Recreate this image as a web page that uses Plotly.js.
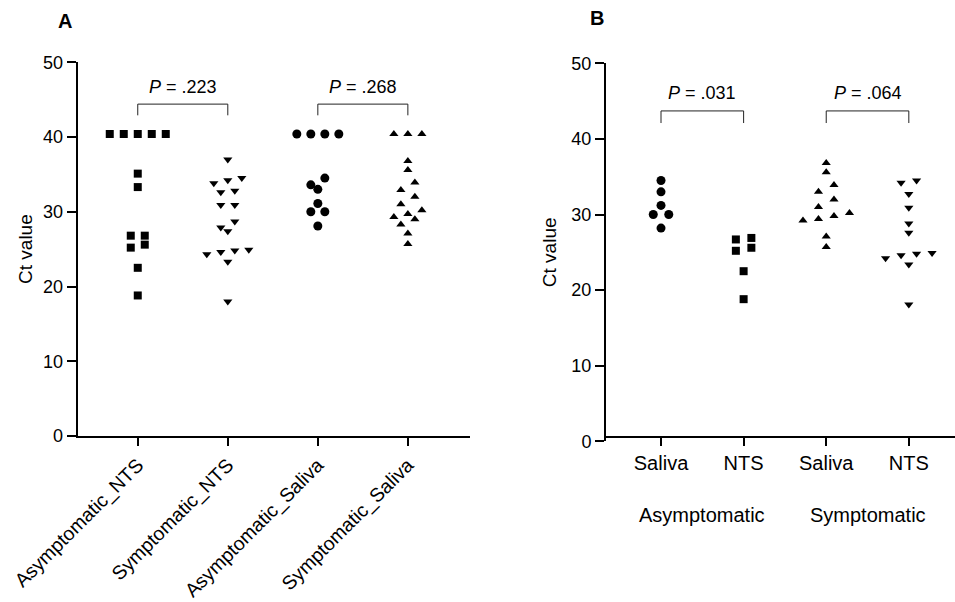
<!DOCTYPE html>
<html><head><meta charset="utf-8">
<script src="https://cdn.plot.ly/plotly-3.0.1.min.js"></script>
<style>html,body{margin:0;padding:0;background:#fff;} #chart{width:955px;height:602px;}</style>
</head><body><div id="chart"></div>
<script>
// ---------- Data ----------
const categoriesA = ["Asymptomatic_NTS", "Symptomatic_NTS", "Asymptomatic_Saliva", "Symptomatic_Saliva"];
const asymptomaticNTS_A   = [40.4, 40.4, 40.4, 40.4, 40.4, 35.1, 33.3, 26.8, 26.8, 25.6, 25.2, 22.5, 18.8];
const symptomaticNTS_A    = [37.0, 34.5, 34.2, 33.8, 32.8, 32.6, 30.9, 30.9, 28.7, 27.9, 27.4, 24.9, 24.8, 24.6, 24.3, 23.3, 18.0];
const asymptomaticSaliva_A = [40.4, 40.4, 40.4, 40.4, 34.5, 33.6, 33.0, 31.1, 30.0, 30.0, 28.1];
const symptomaticSaliva_A = [40.4, 40.4, 40.4, 36.8, 35.6, 33.9, 32.9, 32.0, 31.0, 30.2, 29.7, 29.3, 29.0, 28.3, 27.1, 25.7];
const pValuesA = [".223", ".268"];

const tickLabelsB = ["Saliva", "NTS", "Saliva", "NTS"];
const groupLabelsB = ["Asymptomatic", "Symptomatic"];
const asymptomaticSaliva_B = [34.5, 33.0, 31.2, 30.0, 30.0, 28.2];
const asymptomaticNTS_B    = [26.9, 26.7, 25.6, 25.2, 22.5, 18.8];
const symptomaticSaliva_B  = [36.8, 35.6, 33.9, 33.0, 32.0, 31.0, 30.2, 29.8, 29.4, 29.2, 27.1, 25.7];
const symptomaticNTS_B     = [34.5, 34.2, 32.7, 30.9, 28.8, 27.6, 24.9, 24.8, 24.6, 24.2, 23.4, 18.1];
const pValuesB = [".031", ".064"];

const yTicks = [0, 10, 20, 30, 40, 50];

// ---------- Geometry ----------
const W = 955, H = 602;
const A = {x0: 77.7, x1: 470, y0: 436, y1: 62.25, xr: [-0.667, 3.69]};
const B = {x0: 606, x1: 955, y0: 441.3, y1: 63.3, xr: [-0.666, 3.559]};
function pxPerX(p) { return (p.x1 - p.x0) / (p.xr[1] - p.xr[0]); }
function pxPerY(p) { return (p.y0 - p.y1) / 50; }

// Row-based scatter (column dot plot) layout computed from the values
function swarm(vals, idx, panel, stepPx, binPx) {
  const step = stepPx / pxPerX(panel);
  const bin = binPx / pxPerY(panel);
  const s = vals.slice().sort((a, b) => b - a);
  const xs = [], ys = [];
  let i = 0;
  while (i < s.length) {
    const top = s[i], row = [];
    while (i < s.length && top - s[i] < bin) { row.push(s[i]); i++; }
    row.sort((a, b) => a - b);
    row.forEach((v, k) => { xs.push(idx + (k - (row.length - 1) / 2) * step); ys.push(v); });
  }
  return {x: xs, y: ys};
}

const FONT = "Liberation Sans, Arial, Helvetica, sans-serif";
function trace(vals, idx, panel, symbol, size, xa, ya) {
  const p = swarm(vals, idx, panel, panel === A ? 14 : 15.5, 8);
  return {x: p.x, y: p.y, xaxis: xa, yaxis: ya, type: "scatter", mode: "markers",
    marker: {symbol: symbol, size: size, color: "#000"}, showlegend: false, hoverinfo: "y", cliponaxis: false};
}

const data = [
  trace(asymptomaticNTS_A, 0, A, "square", 8, "x", "y"),
  trace(symptomaticNTS_A, 1, A, "triangle-down", 8, "x", "y"),
  trace(asymptomaticSaliva_A, 2, A, "circle", 9, "x", "y"),
  trace(symptomaticSaliva_A, 3, A, "triangle-up", 8, "x", "y"),
  trace(asymptomaticSaliva_B, 0, B, "circle", 9, "x2", "y2"),
  trace(asymptomaticNTS_B, 1, B, "square", 8, "x2", "y2"),
  trace(symptomaticSaliva_B, 2, B, "triangle-up", 8, "x2", "y2"),
  trace(symptomaticNTS_B, 3, B, "triangle-down", 8, "x2", "y2")
];

function xAxis(p, labels, angle, size) {
  return {domain: [p.x0 / W, p.x1 / W], range: p.xr, tickmode: "array", tickvals: [0, 1, 2, 3], ticktext: labels,
    tickangle: angle, showline: true, linecolor: "#000", linewidth: 2, ticks: "outside", ticklen: 8, tickwidth: 2,
    tickcolor: "#000", showgrid: false, zeroline: false, tickfont: {family: FONT, size: size, color: "#000"}, fixedrange: true};
}
function yAxis(p, anchor, standoff) {
  return {domain: [1 - p.y0 / H, 1 - p.y1 / H], range: [0, 50], tickmode: "array", tickvals: yTicks, anchor: anchor,
    showline: true, linecolor: "#000", linewidth: 2, ticks: "outside", ticklen: 9, tickwidth: 2, tickcolor: "#000",
    showgrid: false, zeroline: false, tickfont: {family: FONT, size: 18, color: "#000"},
    title: {text: "Ct value", font: {family: FONT, size: 19, color: "#000"}, standoff: standoff}, fixedrange: true};
}

function bracket(xa, ya, i0, i1, yLow, yHigh) {
  return {type: "path", xref: xa, yref: ya, path: `M ${i0},${yLow} L ${i0},${yHigh} L ${i1},${yHigh} L ${i1},${yLow}`,
    line: {color: "#222", width: 1}};
}
function pLabel(xa, ya, xc, yv, p) {
  return {xref: xa, yref: ya, x: xc, y: yv, text: "<i>P</i> = " + p, showarrow: false,
    font: {family: FONT, size: 18, color: "#000"}, xanchor: "center", yanchor: "middle"};
}

const layout = {
  width: W, height: H, margin: {l: 0, r: 0, t: 0, b: 0}, paper_bgcolor: "#fff", plot_bgcolor: "#fff",
  showlegend: false,
  xaxis: xAxis(A, categoriesA, -45, 19.5),
  yaxis: yAxis(A, "x", 5),
  xaxis2: xAxis(B, tickLabelsB, 0, 20),
  yaxis2: yAxis(B, "x2", 10),
  shapes: [
    bracket("x", "y", 0, 1, 42.9, 44.4), bracket("x", "y", 2, 3, 42.9, 44.4),
    bracket("x2", "y2", 0, 1, 42.1, 43.7), bracket("x2", "y2", 2, 3, 42.1, 43.7)
  ],
  annotations: [
    pLabel("x", "y", 0.5, 46.7, pValuesA[0]), pLabel("x", "y", 2.5, 46.7, pValuesA[1]),
    pLabel("x2", "y2", 0.5, 46.1, pValuesB[0]), pLabel("x2", "y2", 2.5, 46.1, pValuesB[1]),
    {xref: "x2", yref: "paper", x: 0.5, y: 1 - 515 / H, text: groupLabelsB[0], showarrow: false,
      font: {family: FONT, size: 20, color: "#000"}, xanchor: "center", yanchor: "middle"},
    {xref: "x2", yref: "paper", x: 2.5, y: 1 - 515 / H, text: groupLabelsB[1], showarrow: false,
      font: {family: FONT, size: 20, color: "#000"}, xanchor: "center", yanchor: "middle"},
    {xref: "paper", yref: "paper", x: 65 / W, y: 1 - 21 / H, text: "<b>A</b>", showarrow: false,
      font: {family: FONT, size: 20, color: "#000"}, xanchor: "center", yanchor: "middle"},
    {xref: "paper", yref: "paper", x: 597 / W, y: 1 - 18 / H, text: "<b>B</b>", showarrow: false,
      font: {family: FONT, size: 20, color: "#000"}, xanchor: "center", yanchor: "middle"}
  ]
};

Plotly.newPlot("chart", data, layout, {displayModeBar: false, staticPlot: true});
</script></body></html>
